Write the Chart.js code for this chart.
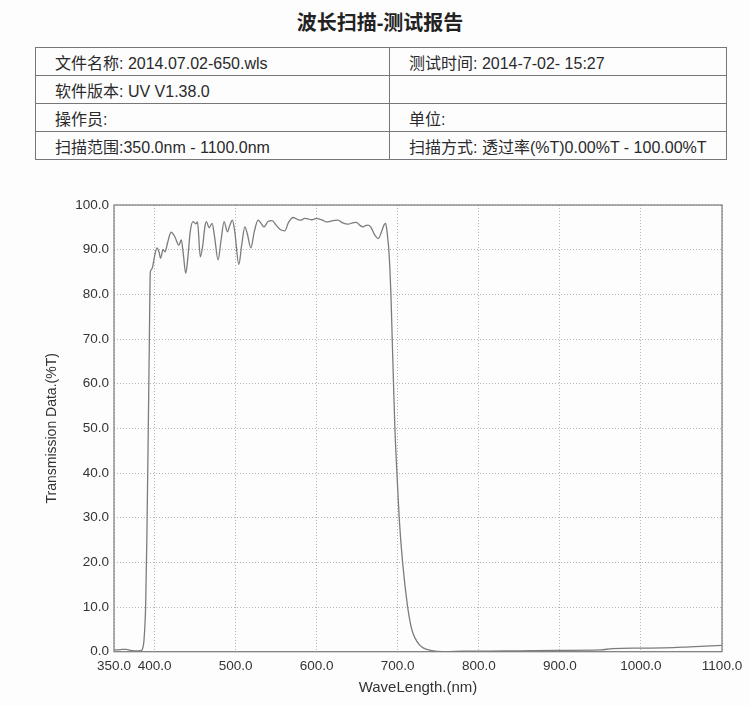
<!DOCTYPE html>
<html>
<head>
<meta charset="utf-8">
<script src="https://cdn.jsdelivr.net/npm/chart.js@4/dist/chart.umd.min.js"></script>
<style>
  html, body { margin: 0; padding: 0; background: #fdfdfe; }
  body { width: 750px; height: 706px; position: relative; overflow: hidden;
         font-family: "Liberation Sans", "Noto Sans CJK SC", sans-serif; color: #2a2a2a; }
  #title { position: absolute; left: 0; width: 760px; top: 7px; text-align: center;
           font-size: 20px; font-weight: bold; font-family: "Liberation Sans", "Noto Sans CJK SC", sans-serif; color: #222; }
  table { position: absolute; left: 35px; top: 47px; width: 692px; border-collapse: collapse; }
  td { border: 1px solid #777; height: 27px; padding: 0 0 0 19px; font-size: 16px; vertical-align: middle; color: #2a2a2a; }
  td.c1 { width: 334px; }
  #wrap { position: absolute; left: 0; top: 170px; width: 750px; height: 536px; }
</style>
</head>
<body>
<div id="title">波长扫描-测试报告</div>
<table>
  <tr><td class="c1">文件名称: 2014.07.02-650.wls</td><td>测试时间: 2014-7-02- 15:27</td></tr>
  <tr><td class="c1">软件版本: UV V1.38.0</td><td></td></tr>
  <tr><td class="c1">操作员:</td><td>单位:</td></tr>
  <tr><td class="c1">扫描范围:350.0nm - 1100.0nm</td><td>扫描方式: 透过率(%T)0.00%T - 100.00%T</td></tr>
</table>
<div id="wrap"><canvas id="c" width="750" height="536"></canvas></div>
<script>
// Wavelength (nm) and transmission (%T)
const wavelengths = [350,355,360,365,370,375,380,384,386,387,389,390.5,392.3,393.5,394.8,396,398,400,403,405.5,407.5,410.5,413,416,420.5,425,430,433,435.5,438.5,441,444,447.5,451,453,456.5,459.5,462,464,467.3,471,474,478.4,482,485.8,489.9,493,496,499,504,507.5,511.4,514.5,518.8,523,527.8,531,535,540,545,550,555,560.7,565,571,576,581,585,589,594,599.8,604,607.4,612,615.7,620,626,632,638.9,644,649,653,657,660,663.6,667,671,676,680,683,685,686.5,688,689,690.5,691.6,693.2,694.8,696.5,699,701.8,706,712.2,716,719,724,729.4,736,746,760,780,800,850,900,950,965,1000,1040,1060,1100];
const transmission = [0.4,0.4,0.5,0.5,0.3,0.2,0.2,0.3,1.2,2.6,10,25,50,68,85,85.5,86.5,88.5,90.4,89.5,88.1,90.0,89.5,91.5,93.9,92.9,91.0,92.2,89,84.7,88,94,96.3,95.8,96.2,88.4,91,95,96.3,94.9,95.9,93,87.7,92,96.3,94.0,95.5,96.6,94,86.7,91,95.1,93.5,90.4,94,96.6,96,95.1,96.3,96.5,95.5,94.5,94.2,96,97.2,96.8,96.6,97,96.9,96.7,97.0,96.8,96.6,96.2,96.3,96.5,96.6,96.0,95.7,96.0,96.1,95.5,95.1,95.4,95.5,95,93.5,92.5,94,95.5,95.9,94.5,92,90,85,80,70,60,50,40,30,20,10,6,4,2.2,1.1,0.5,0.1,0.0,0.1,0.1,0.2,0.3,0.4,0.7,0.8,0.9,1.1,1.4];
const xTickValues = [350,400,500,600,700,800,900,1000,1100];
const yMin = 0, yMax = 100, yStep = 10;

const points = wavelengths.map((w, i) => ({ x: w, y: transmission[i] }));
const fontFamily = '"Liberation Sans", Arial, sans-serif';

const frame = {
  id: 'frame',
  afterDraw(chart) {
    const { ctx, chartArea: a } = chart;
    ctx.save();
    ctx.strokeStyle = '#7a7a7a';
    ctx.lineWidth = 1.2;
    ctx.strokeRect(a.left, a.top, a.right - a.left, a.bottom - a.top);
    ctx.restore();
  }
};

new Chart(document.getElementById('c'), {
  type: 'line',
  data: {
    datasets: [{
      data: points,
      borderColor: '#7c7c7c',
      borderWidth: 1.3,
      pointRadius: 0,
      fill: false,
      cubicInterpolationMode: 'monotone'
    }]
  },
  options: {
    responsive: false,
    animation: false,
    events: [],
    layout: { padding: { left: 0, right: 28, top: 35, bottom: 0 } },
    plugins: { legend: { display: false }, tooltip: { enabled: false } },
    scales: {
      x: {
        type: 'linear',
        min: 350, max: 1100,
        afterBuildTicks: s => { s.ticks = xTickValues.map(v => ({ value: v })); },
        afterFit: s => { s.height = 54.3; },
        grid: { color: '#b4b4b4', lineWidth: 1, drawTicks: false },
        border: { display: false, dash: [1, 2] },
        ticks: {
          autoSkip: false, maxRotation: 0, padding: 6,
          color: '#333', font: { family: fontFamily, size: 13.5 },
          callback: v => Number(v).toFixed(1)
        },
        title: { display: true, text: 'WaveLength.(nm)', color: '#333',
                 font: { family: fontFamily, size: 15 }, padding: { top: 0, bottom: 9 } }
      },
      y: {
        min: yMin, max: yMax,
        afterFit: s => { s.width = 114; },
        grid: { color: '#b4b4b4', lineWidth: 1, drawTicks: false },
        border: { display: false, dash: [1, 2] },
        ticks: {
          stepSize: yStep, padding: 5,
          color: '#333', font: { family: fontFamily, size: 13.5 },
          callback: v => Number(v).toFixed(1)
        },
        title: { display: true, text: 'Transmission Data.(%T)', color: '#333',
                 font: { family: fontFamily, size: 14 }, padding: { top: 44, bottom: 0 } }
      }
    }
  },
  plugins: [frame]
});
</script>
</body>
</html>
